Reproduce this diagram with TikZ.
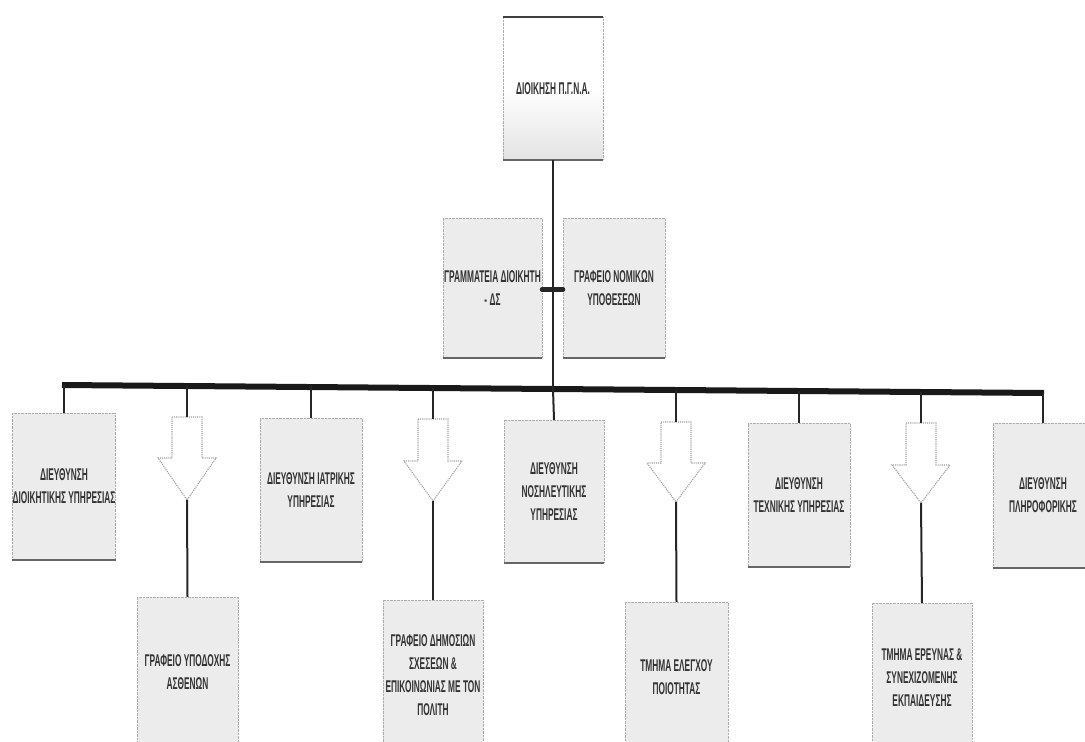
\documentclass[tikz,border=0pt]{standalone}
\usepackage{fontspec}
\setmainfont{Liberation Sans}
\newfontfamily\boxfont{Liberation Sans}[FakeStretch=0.49]
\begin{document}
\begin{tikzpicture}[x=1pt,y=-1pt,
  box/.style={draw=gray!65, densely dotted, fill=gray!15, inner sep=0pt,
    align=center, font=\boxfont\bfseries\fontsize{17}{23}\selectfont, text=black!80},
  botedge/.style={draw=gray!80!black, line width=1.6pt, solid},
  conn/.style={draw=black!85, line width=2pt},
  bar/.style={draw=black!90, line width=6pt},
  downarrow/.style={draw=gray!75, densely dotted, line width=1.1pt, fill=white},
  link/.style={draw=black!85, line width=5pt, line cap=round}]
\useasboundingbox (0,0) rectangle (1085,742);
\clip (0,0) rectangle (1085,742);

% top box
\node[box, shade, top color=white, bottom color=gray!22, middle color=white,
      minimum width=100pt, minimum height=143pt] (top) at (553,88.5) {ΔΙΟΙΚΗΣΗ Π.Γ.Ν.Α.};
\draw[draw=black!75, line width=2pt] (top.north west) -- (top.north east);
\draw[botedge] (top.south west) -- (top.south east);

% staff boxes
\node[box, minimum width=99pt, minimum height=140pt] (sec) at (492.5,288) {ΓΡΑΜΜΑΤΕΙΑ ΔΙΟΙΚΗΤΗ\\- ΔΣ};
\node[box, minimum width=102pt, minimum height=140pt] (leg) at (614,288) {ΓΡΑΦΕΙΟ ΝΟΜΙΚΩΝ\\ΥΠΟΘΕΣΕΩΝ};
\draw[botedge] (sec.south west) -- (sec.south east);
\draw[botedge] (leg.south west) -- (leg.south east);

% bar
\coordinate (barL) at (63,385);
\coordinate (barR) at (1043,393);
\coordinate (barC) at (553,389);
\draw[bar] ([xshift=-1pt]barL) -- ([xshift=1pt]barR);
\draw[conn, line width=2.4pt] (top.south) -- (barC);
\draw[link] (sec.east |- 0,289.5) -- (leg.west |- 0,289.5);

% directorates
\node[box, minimum width=102pt, minimum height=147pt] (d1) at (64,486.5) {ΔΙΕΥΘΥΝΣΗ\\ΔΙΟΙΚΗΤΙΚΗΣ ΥΠΗΡΕΣΙΑΣ};
\node[box, minimum width=102pt, minimum height=144pt] (d2) at (311,490) {ΔΙΕΥΘΥΝΣΗ ΙΑΤΡΙΚΗΣ\\ΥΠΗΡΕΣΙΑΣ};
\node[box, minimum width=100pt, minimum height=143pt] (d3) at (554,491.5) {ΔΙΕΥΘΥΝΣΗ\\ΝΟΣΗΛΕΥΤΙΚΗΣ\\ΥΠΗΡΕΣΙΑΣ};
\node[box, minimum width=102pt, minimum height=144pt] (d4) at (799,495) {ΔΙΕΥΘΥΝΣΗ\\ΤΕΧΝΙΚΗΣ ΥΠΗΡΕΣΙΑΣ};
\node[box, minimum width=100pt, minimum height=145pt] (d5) at (1043,495.5) {ΔΙΕΥΘΥΝΣΗ\\ΠΛΗΡΟΦΟΡΙΚΗΣ};
\foreach \n in {d1,d2,d3,d4,d5}{\draw[botedge] (\n.south west) -- (\n.south east);}

\draw[conn] (d1.north |- barL) -- (d1.north);
\draw[conn] (d2.north |- 0,386) -- (d2.north);
\draw[conn] (barC) -- (d3.north);
\draw[conn] (d4.north |- 0,391) -- (d4.north);
\draw[conn] (d5.north |- barR) -- (d5.north);

% arrows: top coordinate and tip coordinate
\coordinate (a1t) at (187,417); \coordinate (a1b) at (187,500);
\coordinate (a2t) at (433,419); \coordinate (a2b) at (433,501);
\coordinate (a3t) at (676,422); \coordinate (a3b) at (676,502);
\coordinate (a4t) at (921,423); \coordinate (a4b) at (921,503);
\foreach \c/\t/\s/\b in {187/417/458/500, 433/419/461/501, 676/422/463/502, 921/423/465/503}{
  \draw[downarrow] (\c-15,\t) -- (\c+15,\t) -- (\c+15,\s) -- (\c+29,\s) -- (\c,\b)
     -- (\c-29,\s) -- (\c-15,\s) -- cycle;
}
\draw[conn] (a1t |- 0,386) -- (a1t);
\draw[conn] (a2t |- 0,387.5) -- (a2t);
\draw[conn] (a3t |- 0,390) -- (a3t);
\draw[conn] (a4t |- 0,392) -- (a4t);

% offices
\node[box, minimum width=101pt, minimum height=150pt] (o1) at (187.5,672) {ΓΡΑΦΕΙΟ ΥΠΟΔΟΧΗΣ\\ΑΣΘΕΝΩΝ};
\node[box, minimum width=100pt, minimum height=150pt] (o2) at (433,675) {ΓΡΑΦΕΙΟ ΔΗΜΟΣΙΩΝ\\ΣΧΕΣΕΩΝ \&\\ΕΠΙΚΟΙΝΩΝΙΑΣ ΜΕ ΤΟΝ\\ΠΟΛΙΤΗ};
\node[box, minimum width=103pt, minimum height=150pt] (o3) at (676.5,677) {ΤΜΗΜΑ ΕΛΕΓΧΟΥ\\ΠΟΙΟΤΗΤΑΣ};
\node[box, minimum width=100pt, minimum height=150pt] (o4) at (922,678) {ΤΜΗΜΑ ΕΡΕΥΝΑΣ \&\\ΣΥΝΕΧΙΖΟΜΕΝΗΣ\\ΕΚΠΑΙΔΕΥΣΗΣ};

\draw[conn] (a1b) -- (o1.north);
\draw[conn] (a2b) -- (o2.north);
\draw[conn] (a3b) -- (o3.north);
\draw[conn] (a4b) -- (o4.north);
\end{tikzpicture}
\end{document}
